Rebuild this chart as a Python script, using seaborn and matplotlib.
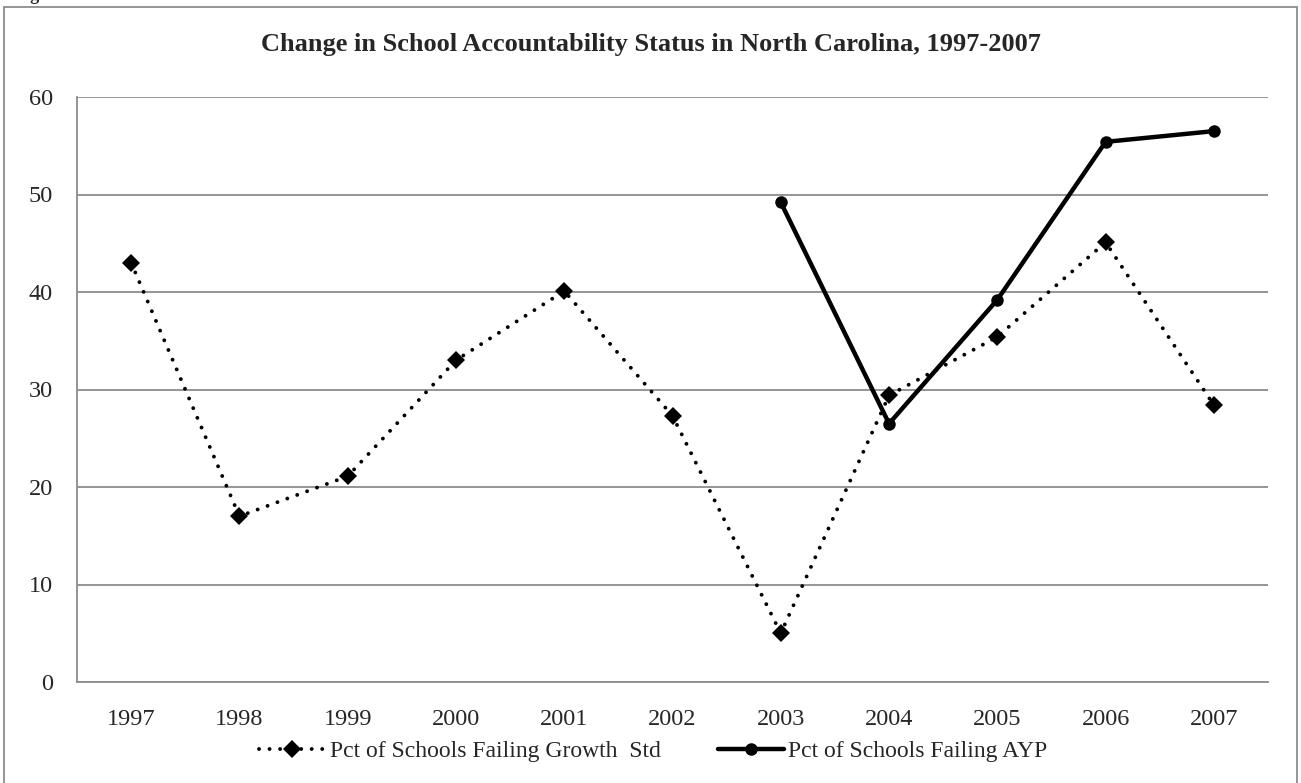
import matplotlib
matplotlib.use("Agg")
import matplotlib.pyplot as plt
import seaborn as sns
import pandas as pd
import numpy as np
from matplotlib.patches import Rectangle
from matplotlib.ticker import FixedLocator

# values
years = [1997, 1998, 1999, 2000, 2001, 2002, 2003, 2004, 2005, 2006, 2007]
growth_fail = [43.0, 17.0, 21.1, 33.0, 40.1, 27.3, 5.0, 29.4, 35.4, 45.1, 28.4]
ayp_years = [2003, 2004, 2005, 2006, 2007]
ayp_fail = [49.2, 26.5, 39.2, 55.4, 56.5]
yticks = [0, 10, 20, 30, 40, 50, 60]

title = "Change in School Accountability Status in North Carolina, 1997-2007"
lbl_growth = "Pct of Schools Failing Growth  Std"
lbl_ayp = "Pct of Schools Failing AYP"

sns.set_theme(style="white")
plt.rcParams["font.family"] = ["Liberation Serif", "DejaVu Serif"]

grid_col = "#8c8c8c"

fig = plt.figure(figsize=(13.01, 7.83), dpi=100)
ax = fig.add_axes([77 / 1301, 1 - 682 / 783, (1268 - 77) / 1301, (682 - 97) / 783])

df_g = pd.DataFrame({"year": years, "pct": growth_fail})
df_a = pd.DataFrame({"year": ayp_years, "pct": ayp_fail})

sns.lineplot(data=df_g, x="year", y="pct", ax=ax, color="black",
             linewidth=2.8, linestyle=(0, (0.01, 2.7)), dash_capstyle="round",
             marker="D", markersize=9.5, markeredgewidth=0, label=lbl_growth)
sns.lineplot(data=df_a, x="year", y="pct", ax=ax, color="black",
             linewidth=3.2, marker="o", markersize=9, markeredgewidth=0,
             label=lbl_ayp)

ax.set_xlim(years[0] - 0.5, years[-1] + 0.5)
ax.set_ylim(0, 60)
ax.set_yticks(yticks)
ax.set_xticks(years)
ax.set_xticklabels([str(y) for y in years])
ax.xaxis.set_minor_locator(FixedLocator(np.arange(years[0] - 0.5, years[-1] + 1, 1.0)))
ax.tick_params(axis="x", which="major", length=0, pad=19.5, labelsize=17.5)
ax.tick_params(axis="x", which="minor", length=5, width=1.3, color=grid_col, direction="out")
ax.tick_params(axis="y", which="major", length=6, width=1.3, color=grid_col,
               direction="out", pad=11.5, labelsize=17.5)
ax.yaxis.grid(True, color=grid_col, linewidth=1.3)
ax.set_axisbelow(True)
ax.set_xlabel("")
ax.set_ylabel("")
for s in ["top", "right"]:
    ax.spines[s].set_visible(False)
for s in ["left", "bottom"]:
    ax.spines[s].set_color(grid_col)
    ax.spines[s].set_linewidth(1.3)

leg = ax.legend(loc="center", bbox_to_anchor=(0.5 - 19 / 1191, -0.118), ncol=2,
                frameon=False, fontsize=17, handlelength=2.8, columnspacing=2.4,
                handletextpad=0.2)

fig.text(0.5, 1 - 44 / 783, title, ha="center", va="center",
         fontsize=19, fontweight="bold")

# outer chart border and clipped caption above it
fig.patches.append(Rectangle((4 / 1301, -0.01), 1293 / 1301, 1 - 7 / 783 + 0.01,
                             transform=fig.transFigure, fill=False,
                             edgecolor=grid_col, linewidth=1.3))
fig.text(15 / 1301, 1.0, "Figure", va="baseline", ha="left", fontsize=13,
         fontweight="bold")

fig.savefig("out.png", dpi=100)
